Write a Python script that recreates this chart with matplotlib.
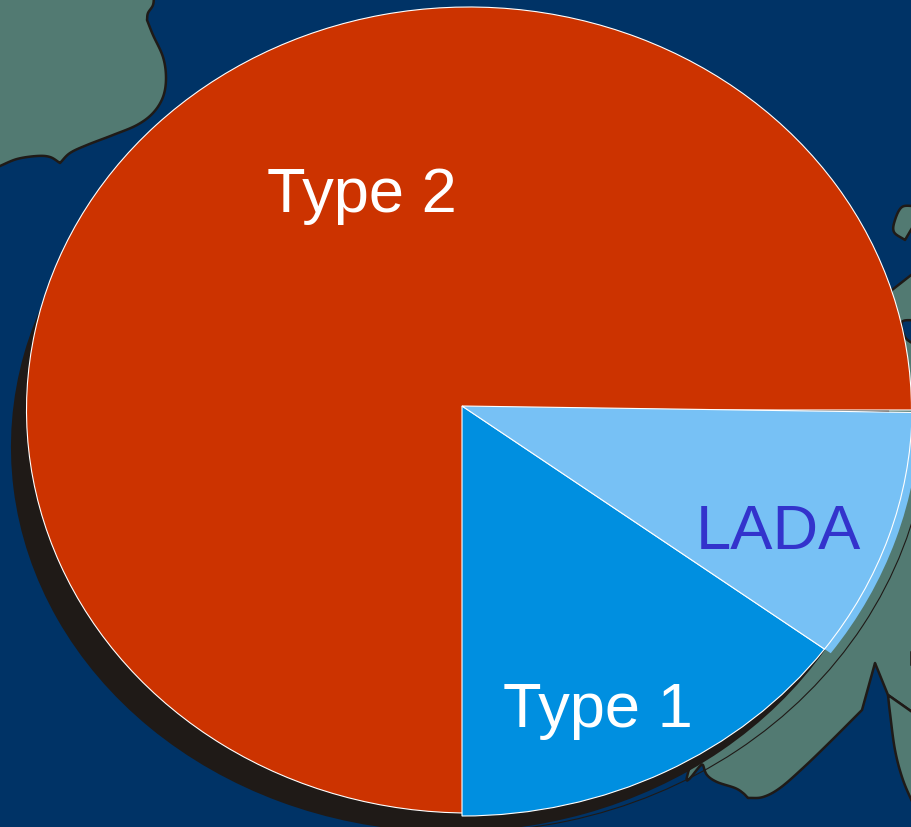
import matplotlib
matplotlib.use("Agg")
import matplotlib.pyplot as plt
import numpy as np
from matplotlib.patches import Polygon, Arc
from matplotlib.transforms import Affine2D

plt.rcParams['font.family'] = ['Liberation Sans', 'DejaVu Sans']

# data
categories = ["Type 2", "Type 1", "LADA"]
shares = [0.75, 0.149, 0.0985]
colors = ["#CC3300", "#008FE0", "#77C1F5"]
text_colors = ["white", "white", "#3333CC"]

NAVY = "#003366"
LAND = "#527A72"
DARK = "#1F1A17"
W, H = 912, 827
R = 1.098  # horizontal stretch of the tilted pie
R_SHADOW = 1.143


def X(px):
    return px / R


def Y(py):
    return H - py


def smooth(seq, n=10):
    """Catmull-Rom curve through one run of outline points."""
    p = np.array(seq, float)
    p = np.vstack([2 * p[0] - p[1], p, 2 * p[-1] - p[-2]])
    out = []
    for i in range(1, len(p) - 2):
        for t in np.linspace(0, 1, n, endpoint=False):
            out.append(0.5 * (2 * p[i] + (p[i + 1] - p[i - 1]) * t
                              + (2 * p[i - 1] - 5 * p[i] + 4 * p[i + 1] - p[i + 2]) * t ** 2
                              + (3 * p[i] - p[i - 1] - 3 * p[i + 1] + p[i + 2]) * t ** 3))
    out.append(p[-2])
    return out


def outline(*runs):
    res = []
    for run in runs:
        res.extend(smooth(run))
    return [(X(a), Y(b)) for a, b in res]


land_nw = outline(
    [(-5, 168), (0, 166), (17, 159), (37, 156), (50, 157), (60, 163)],
    [(60, 163), (70, 153), (87, 145), (113, 135), (137, 125), (153, 113), (163, 97), (166, 78),
     (163, 57), (153, 35), (147, 20)],
    [(147, 20), (148, 13), (153, 5), (154, -5)],
    [(154, -5), (-5, -5)])
land_ne_isle = outline(
    [(915, 206), (902, 207), (895, 220), (894, 232), (905, 240)],
    [(905, 240), (915, 223)])
land_e = outline(
    [(915, 272), (892, 290)],
    [(892, 290), (700, 740), (703, 765)],
    [(703, 765), (707, 775), (717, 782), (735, 788), (743, 793), (748, 798)],
    [(748, 798), (763, 797), (780, 788), (803, 768), (830, 742), (862, 710)],
    [(862, 710), (875, 663)],
    [(875, 663), (888, 695)],
    [(888, 695), (915, 714)])
land_se = outline(
    [(888, 695), (915, 714)],
    [(915, 714), (915, 808)],
    [(915, 808), (903, 780), (895, 750), (890, 713), (888, 695)])
bay = outline([(915, 320), (902, 322), (905, 337), (915, 345)])
notch = outline([(911, 652), (911, 664)])

fig = plt.figure(figsize=(W / 100, H / 100), dpi=100, facecolor=NAVY)
ax = fig.add_axes([0, 0, 1, 1])

for shape in (land_nw, land_ne_isle, land_e, land_se):
    ax.add_patch(Polygon(shape, closed=True, facecolor=LAND, edgecolor=DARK, linewidth=1.8,
                         joinstyle="round", zorder=1))
ax.add_patch(Polygon(bay, closed=True, facecolor=NAVY, edgecolor=DARK, linewidth=1.8, zorder=1.1))
ax.plot(*zip(*notch), color=DARK, lw=1.8, zorder=1.1)

# thin outline on the land
ax.add_patch(Arc((X(462), Y(406)), 2 * 426, 2 * 426, theta1=-100, theta2=-8,
                 color=DARK, lw=0.8, zorder=1.5))

type2, type1, lada = shares
end_type1 = -90 + type1 * 360

# drop shadow: every slice except LADA, on a slightly wider ellipse
shadow, _ = ax.pie([1 - lada], startangle=end_type1 + lada * 360 + 4.6, normalize=False, radius=385,
                   center=(451 / R_SHADOW, Y(447)), colors=[DARK],
                   wedgeprops=dict(linewidth=0, zorder=2))
shadow[0].set_transform(Affine2D().scale(R_SHADOW / R, 1) + ax.transData)

# LADA outer rim
ax.pie([lada], startangle=end_type1, normalize=False, radius=417,
       center=(X(462), Y(406)), colors=[colors[2]], wedgeprops=dict(linewidth=0, zorder=3))
# Type 2
ax.pie([type2], startangle=0, normalize=False, radius=403,
       center=(X(469), Y(410)), colors=[colors[0]],
       wedgeprops=dict(edgecolor="white", linewidth=0.8, zorder=4))
# Type 1 and LADA
ax.pie([type1, lada], startangle=-90, normalize=False, radius=410,
       center=(X(462), Y(406)), colors=colors[1:],
       wedgeprops=dict(edgecolor="white", linewidth=0.8, zorder=5))

label_pos = [(362, 212), (598, 727), (778, 549)]
for name, col, (a, b) in zip(categories, text_colors, label_pos):
    ax.text(X(a), Y(b), name, color=col, fontsize=45.5, ha="center", va="baseline", zorder=6)

ax.set_aspect("auto")
ax.set_xlim(0, X(W))
ax.set_ylim(0, H)
ax.axis("off")

fig.savefig("out.png", dpi=100, facecolor=NAVY)
